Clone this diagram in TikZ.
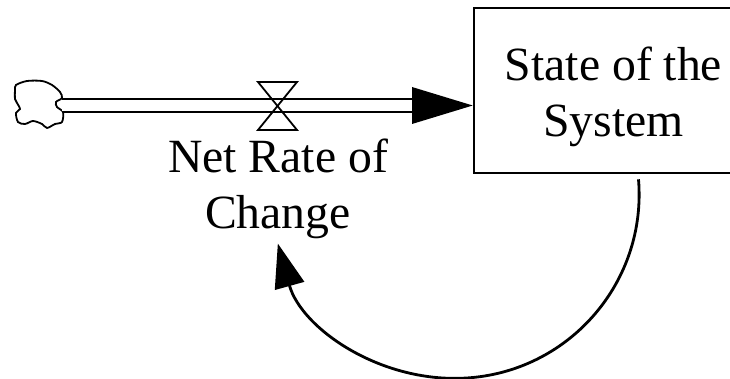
\documentclass[tikz,border=0pt]{standalone}
\usepackage{fontspec}
\setmainfont{Liberation Serif}
\usetikzlibrary{arrows.meta}
\tikzset{
  lbl/.style={align=center, inner sep=0pt, font=\fontsize{47.7pt}{56.5pt}\selectfont},
  stockbox/.style={draw, line width=2.6pt, minimum width=279pt, minimum height=165pt, inner sep=0pt},
  pipe/.style={line width=2pt, double distance=11pt},
  valveshape/.style={line width=1.8pt, line join=miter},
  link/.style={line width=2.8pt, -{Triangle[length=44pt 0 0,width=30pt 0 0]}},
}
\begin{document}
\begin{tikzpicture}[x=1pt,y=-1pt]
\useasboundingbox (0,0) rectangle (730,379);
\clip (0,0) rectangle (730,379);
% stock
\node[stockbox] (stock) at (613.5,90.5) {};
\node[lbl] (stocktext) at (613.5,97) {State of the\\System};
% cloud (source)
\coordinate (cloud) at (62,105.5);
\draw[line width=1.8pt] plot[smooth cycle, tension=0.5] coordinates {
 (16,85) (27,81) (42,81) (52,85) (60,92) (62,98) (56,102) (57,107) (63,112)
 (62,122) (55,124) (47,128) (42,124) (33,121) (25,124) (18,122) (16,113)
 (20,109) (17,103) (15,99) (15,90)};
% pipe with valve and head
\coordinate (headbase) at (412,105.5);
\draw[pipe] (cloud) -- (headbase);
\fill (412,87) -- (stock.west |- headbase) -- (412,124) -- cycle;
\node[inner sep=0pt] (valve) at (277.5,106) {};
\draw[valveshape] (258,82) -- (297,82) -- (valve.center) -- (297,130) -- (258,130) -- (valve.center) -- cycle;
\node[lbl] (rate) at (278,189) {Net Rate of\\Change};
% feedback link
\draw[link] ([xshift=25pt,yshift=-5pt]stock.south) arc[start angle=-4.7, end angle=164.5, radius=184];
\end{tikzpicture}
\end{document}
